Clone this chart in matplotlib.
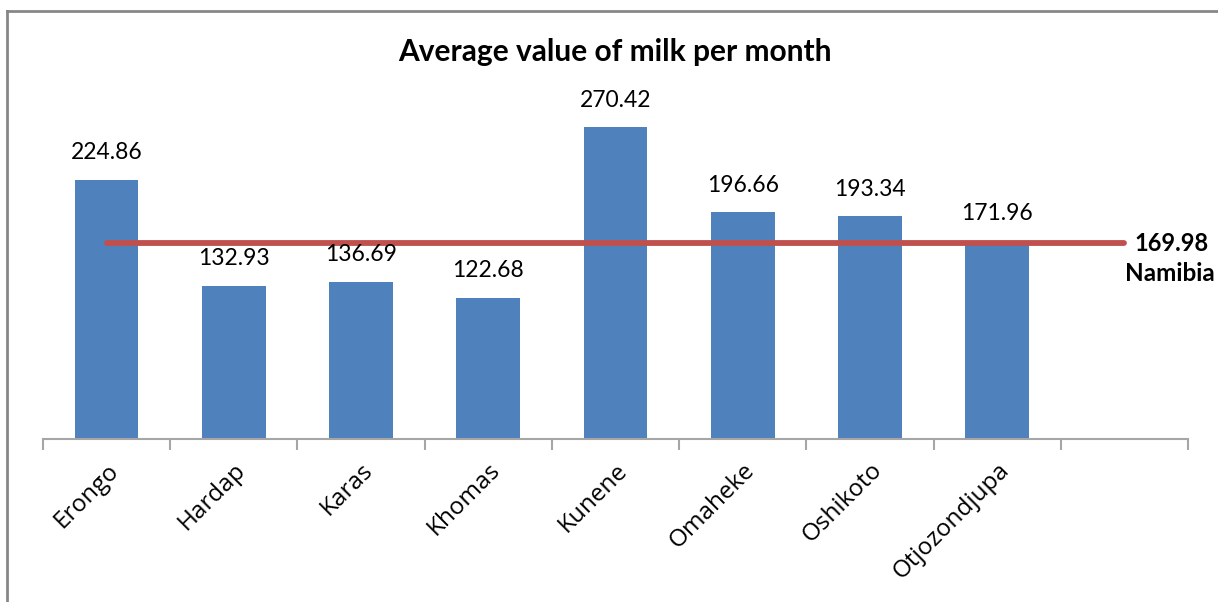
import matplotlib
matplotlib.use("Agg")
import matplotlib.pyplot as plt
from matplotlib.lines import Line2D

# Regions and their average monthly milk value
regions = ["Erongo", "Hardap", "Karas", "Khomas", "Kunene",
           "Omaheke", "Oshikoto", "Otjozondjupa"]
values = [224.86, 132.93, 136.69, 122.68, 270.42, 196.66, 193.34, 171.96]
national_value = 169.98
national_label = "Namibia"
title = "Average value of milk per month"

bar_color = "#4F81BD"
line_color = "#C0504D"
axis_color = "#A6A6A6"

fig = plt.figure(figsize=(12.18, 6.02), dpi=100)
ax = fig.add_axes([43 / 1218, 163 / 602, 1145 / 1218, 345.6 / 602])

# nine category slots: eight regions plus one empty slot at the end
n_slots = len(regions) + 1
xs = list(range(len(regions)))
ax.bar(xs, values, width=0.5, color=bar_color, zorder=2)

for x, v in zip(xs, values):
    ax.annotate(f"{v:.2f}", (x, v), xytext=(0, 12), textcoords="offset points",
                ha="center", va="bottom", fontsize=16.5, family="Lato", zorder=4)

# national average line, from the first category to the empty last slot
ax.plot([0, n_slots - 1], [national_value, national_value],
        color=line_color, lw=4.2, solid_capstyle="round", zorder=3)
ax.annotate(f"{national_value:.2f}", (n_slots - 1, national_value),
            xytext=(34, 0), textcoords="offset points", ha="center", va="center",
            fontsize=17, fontweight="bold", family="Lato", annotation_clip=False)
ax.annotate(national_label, (n_slots - 1, national_value),
            xytext=(33, -22), textcoords="offset points", ha="center", va="center",
            fontsize=17.5, fontweight="bold", family="Lato", annotation_clip=False)

ax.set_xlim(-0.5, n_slots - 0.5)
ax.set_ylim(0, 300)

for side in ["left", "right", "top"]:
    ax.spines[side].set_visible(False)
ax.spines["bottom"].set_color(axis_color)
ax.spines["bottom"].set_linewidth(1.5)
ax.set_yticks([])

# category ticks sit on slot boundaries; labels at slot centres
ax.set_xticks([i - 0.5 for i in range(n_slots + 1)])
ax.set_xticklabels([])
ax.tick_params(axis="x", length=8, width=1.5, color=axis_color, direction="out")
ax.set_xticks(xs, minor=True)
ax.set_xticklabels(regions, minor=True, rotation=45, ha="right",
                   rotation_mode="anchor", fontsize=17.5,
                   family=["Open Sans", "DejaVu Sans"])
ax.tick_params(axis="x", which="minor", length=0, pad=14)

fig.text(615 / 1218, 1 - 52 / 602, title, ha="center", va="center",
         fontsize=21.5, fontweight="bold", family="Lato")

# chart frame (left and top edges)
fig.add_artist(Line2D([7 / 1218, 7 / 1218], [0, 1 - 11 / 602],
                      transform=fig.transFigure, color="#878787", lw=2))
fig.add_artist(Line2D([7 / 1218, 1], [1 - 11 / 602, 1 - 11 / 602],
                      transform=fig.transFigure, color="#878787", lw=2))

fig.savefig("out.png", dpi=100)
